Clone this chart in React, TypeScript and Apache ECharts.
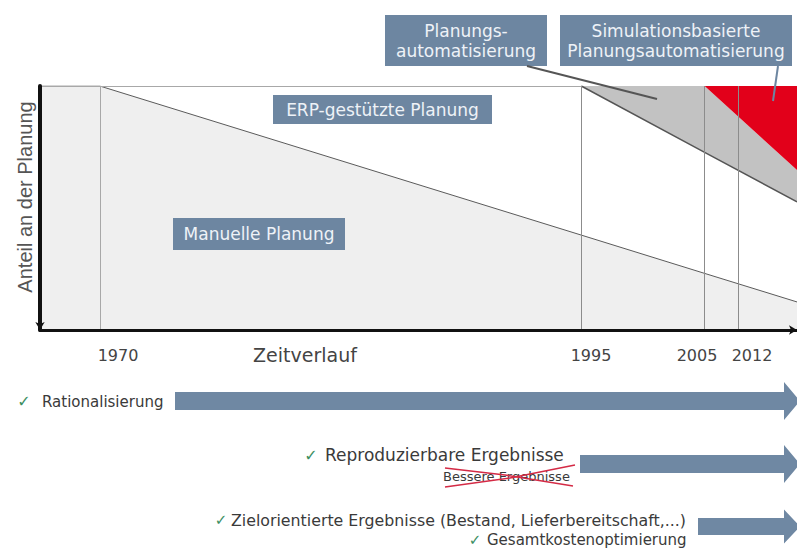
import React, { useEffect, useRef } from "react";
import * as echarts from "echarts";

// Position along the (non-linear) time axis, 0..100
const xPoints = [0, 7.9, 71.5, 87.8, 100];
// Share of planning (%), listed from bottom layer to top layer
const manualShare = [100, 100, 38.9, 23.2, 11.5];
const erpShare = [0, 0, 61.1, 49.6, 41.0];
const autoShare = [0, 0, 0, 27.2, 13.1];
const simShare = [0, 0, 0, 0, 34.4];

const milestoneYears = ["1970", "1995", "2005", "2012"];
const milestonePos = [7.9, 71.5, 87.8, 92.3];
const yearLabelX = [118, 591, 697, 752];

const FONT = "DejaVu Sans";
const BOX = "#6d86a1";
const BOX_TEXT = "#eef2f7";
const ARROW = "#6f88a3";
const CHECK = "#3d8f62";
const TXT = "#3a3a3a";

export default function App() {
  const ref = useRef<HTMLDivElement>(null);
  useEffect(() => {
    if (!ref.current) return;
    const chart = echarts.init(ref.current, null, { renderer: "svg" });

    const layers = [manualShare, erpShare, autoShare, simShare];
    const layerNames = [
      "Manuelle Planung",
      "ERP-gestützte Planung",
      "Planungsautomatisierung",
      "Simulationsbasierte Planungsautomatisierung",
    ];
    const layerColors = ["#efefef", "#ffffff", "#c2c2c2", "#e2001a"];
    const cum = layers.map((_, li) =>
      xPoints.map((_x, i) => layers.slice(0, li + 1).reduce((s, arr) => s + arr[i], 0))
    );

    const bandSeries = layers.map((_, li) => ({
      name: layerNames[li],
      type: "custom",
      data: [[0, 0]],
      silent: true,
      z: 1,
      renderItem: (_params: any, api: any) => {
        const upper = cum[li];
        const lower = li === 0 ? xPoints.map(() => 0) : cum[li - 1];
        const top = xPoints.map((x, i) => api.coord([x, upper[i]]));
        const bottom = xPoints.map((x, i) => api.coord([x, lower[i]])).reverse();
        return {
          type: "polygon",
          shape: { points: [...top, ...bottom] },
          style: { fill: layerColors[li], stroke: null },
        };
      },
    }));

    const edgeData = xPoints
      .map((x, i) => (i >= 2 ? [x, cum[1][i]] : null))
      .filter(Boolean);

    const box = (x: number, y: number, w: number, h: number, text: string, lh = 20) => ({
      type: "group",
      children: [
        { type: "rect", z: 100, shape: { x, y, width: w, height: h }, style: { fill: BOX } },
        {
          type: "text",
          z: 101,
          x: x + w / 2,
          y: y + h / 2,
          style: {
            text,
            fill: BOX_TEXT,
            fontFamily: FONT,
            fontSize: 17,
            lineHeight: lh,
            align: "center",
            verticalAlign: "middle",
          },
        },
      ],
    });

    const txt = (x: number, y: number, text: string, size: number, extra: any = {}) => ({
      type: "text",
      x,
      y,
      z: 100,
      style: {
        text,
        fill: TXT,
        fontFamily: FONT,
        fontSize: size,
        align: "left",
        verticalAlign: "middle",
        ...extra,
      },
    });

    const check = (x: number, y: number, size = 15) => txt(x, y, "✓", size, { fill: CHECK, align: "center" });

    const arrow = (x0: number, x1: number, yc: number, half: number, headHalf: number) => ({
      type: "polygon",
      z: 100,
      shape: {
        points: [
          [x0, yc - half],
          [x1, yc - half],
          [x1, yc - headHalf],
          [x1 + 16, yc],
          [x1, yc + headHalf],
          [x1, yc + half],
          [x0, yc + half],
        ],
      },
      style: { fill: ARROW },
    });

    const option: any = {
      animation: false,
      backgroundColor: "#ffffff",
      textStyle: { fontFamily: FONT },
      grid: { left: 40, right: 0, top: 86, bottom: 219, containLabel: false },
      xAxis: {
        type: "value",
        min: 0,
        max: 100,
        axisLine: { show: true, lineStyle: { color: "#111", width: 3 }, symbol: ["none", "arrow"], symbolSize: [7, 8] },
        axisTick: { show: false },
        axisLabel: { show: false },
        splitLine: { show: false },
        z: 10,
      },
      yAxis: {
        type: "value",
        min: 0,
        max: 100,
        axisLine: { show: true, lineStyle: { color: "#111", width: 4 }, symbol: ["arrow", "none"], symbolSize: [7, 8] },
        axisTick: { show: false },
        axisLabel: { show: false },
        splitLine: { show: false },
        z: 10,
      },
      series: [
        ...bandSeries,
        {
          name: "Manuelle Planung Linie",
          type: "line",
          data: xPoints.map((x, i) => [x, cum[0][i]]),
          symbol: "none",
          lineStyle: { color: "#5a5a5a", width: 1 },
          z: 3,
          markLine: {
            silent: true,
            symbol: "none",
            label: { show: false },
            lineStyle: { color: "#8c8c8c", width: 1, type: "solid" },
            data: [
              ...milestonePos.map((p, i) => ({ xAxis: p, lineStyle: { color: i === 0 ? "#a8a8a8" : "#8c8c8c" } })),
              [{ coord: [0, 100], lineStyle: { color: "#a8a8a8" } }, { coord: [xPoints[2], 100] }],
            ],
          },
        },
        {
          name: "edge",
          type: "line",
          data: edgeData,
          symbol: "none",
          lineStyle: { color: "#555", width: 1.5 },
          z: 3,
        },
      ],
      graphic: [
        {
          type: "text",
          x: 25,
          y: 197,
          rotation: Math.PI / 2,
          z: 100,
          style: {
            text: "Anteil an der Planung",
            fill: "#555",
            fontFamily: "Liberation Sans",
            fontSize: 20,
            align: "center",
            verticalAlign: "middle",
          },
        },
        box(385, 15, 162, 51, "Planungs-\nautomatisierung"),
        box(560, 15, 232, 51, "Simulationsbasierte\nPlanungsautomatisierung"),
        box(273, 95, 219, 29, "ERP-gestützte Planung"),
        box(173, 218, 172, 32, "Manuelle Planung"),
        { type: "line", z: 100, shape: { x1: 527, y1: 66, x2: 657, y2: 99 }, style: { stroke: "#555", lineWidth: 2 } },
        { type: "line", z: 100, shape: { x1: 778, y1: 66, x2: 773, y2: 101 }, style: { stroke: BOX, lineWidth: 2 } },
        ...milestoneYears.map((yr, i) => txt(yearLabelX[i], 355, yr, 16, { align: "center", fill: "#444" })),
        txt(305, 355, "Zeitverlauf", 19, { align: "center", fill: "#444" }),
        // Bottom arrows
        arrow(175, 784, 401, 9, 19),
        arrow(580, 784, 464, 9, 19),
        arrow(698, 784, 526.5, 8.5, 17),
        check(24, 401, 16),
        txt(42, 402, "Rationalisierung", 15),
        check(311, 455, 16),
        txt(325, 455, "Reproduzierbare Ergebnisse", 17),
        txt(443, 476, "Bessere Ergebnisse", 13),
        {
          type: "polyline",
          z: 101,
          shape: { points: [[445, 468], [505, 475], [573, 486]] },
          style: { stroke: "#d42a45", lineWidth: 1.5, fill: null },
        },
        {
          type: "polyline",
          z: 101,
          shape: { points: [[445, 487], [510, 478], [575, 465]] },
          style: { stroke: "#d42a45", lineWidth: 1.5, fill: null },
        },
        check(221, 520, 15),
        txt(231, 520, "Zielorientierte Ergebnisse (Bestand, Lieferbereitschaft,...)", 15.8),
        check(475, 540, 15),
        txt(487, 540, "Gesamtkostenoptimierung", 15),
      ],
    };

    chart.setOption(option);
    return () => chart.dispose();
  }, []);

  return (
    <div
      ref={ref}
      style={{ position: "absolute", left: 0, top: 0, width: 797, height: 549, background: "#fff" }}
    />
  );
}
